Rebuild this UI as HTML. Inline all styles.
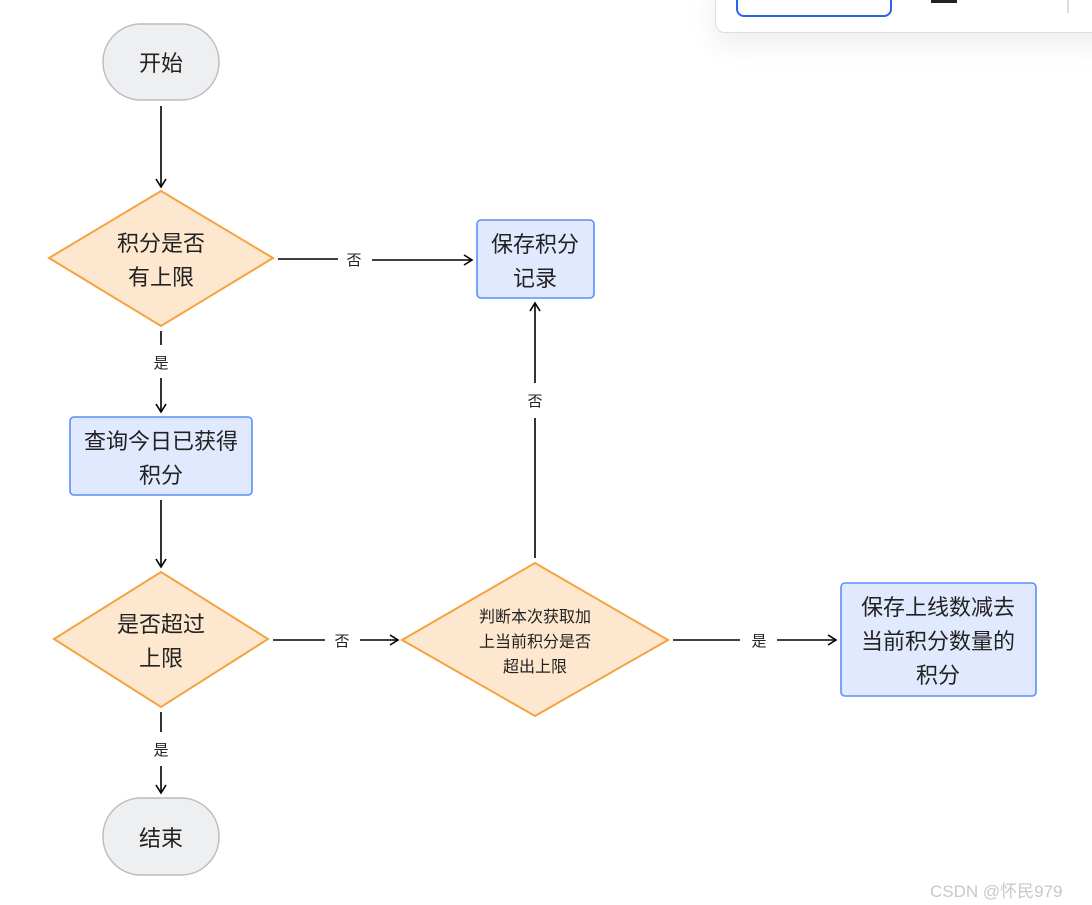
<!DOCTYPE html>
<html><head><meta charset="utf-8"><style>
body{margin:0;width:1092px;height:905px;background:#fff;overflow:hidden;position:relative;font-family:"Liberation Sans","Noto Sans CJK SC",sans-serif;}
svg{position:absolute;left:0;top:0}
.panel{position:absolute;left:715px;top:-20px;width:400px;height:51px;background:#fff;border:1px solid #ddd;border-radius:10px;box-shadow:0 10px 30px rgba(0,0,0,0.08)}
.btn{position:absolute;left:20px;top:-2px;width:156px;height:38px;border:2px solid #2b62f0;border-radius:8px;box-sizing:border-box}
.wm{position:absolute;left:930px;top:877px;font-size:17px;color:#c8c8c8}
</style></head><body>
<div class="panel"><div class="btn"></div><div style="position:absolute;left:215px;top:18px;width:26px;height:4px;background:#222"></div><div style="position:absolute;left:351px;top:0;width:2px;height:32px;background:#ddd"></div></div>
<svg width="1092" height="905" viewBox="0 0 1092 905" font-family="Liberation Sans, Noto Sans CJK SC, sans-serif">
<defs><marker id="a" markerWidth="12" markerHeight="12" refX="10" refY="6" orient="auto" markerUnits="userSpaceOnUse"><path d="M2,1 L10,6 L2,11" fill="none" stroke="#000" stroke-width="1.6"/></marker></defs>
<g stroke="#000" stroke-width="1.6" fill="none">
<line x1="161" y1="106" x2="161" y2="187" marker-end="url(#a)"/>
<line x1="278" y1="259" x2="338" y2="259"/>
<line x1="372" y1="260" x2="472" y2="260" marker-end="url(#a)"/>
<line x1="161" y1="331" x2="161" y2="345"/>
<line x1="161" y1="378" x2="161" y2="412" marker-end="url(#a)"/>
<line x1="161" y1="500" x2="161" y2="567" marker-end="url(#a)"/>
<line x1="273" y1="640" x2="325" y2="640"/>
<line x1="360" y1="640" x2="398" y2="640" marker-end="url(#a)"/>
<line x1="535" y1="558" x2="535" y2="418"/>
<line x1="535" y1="383" x2="535" y2="303" marker-end="url(#a)"/>
<line x1="673" y1="640" x2="740" y2="640"/>
<line x1="777" y1="640" x2="836" y2="640" marker-end="url(#a)"/>
<line x1="161" y1="712" x2="161" y2="732"/>
<line x1="161" y1="766" x2="161" y2="793" marker-end="url(#a)"/>
</g>
<g font-size="15" fill="#222" text-anchor="middle">
<text x="354" y="265">否</text><text x="161" y="368">是</text><text x="342" y="646">否</text><text x="535" y="406">否</text><text x="759" y="646">是</text><text x="161" y="755">是</text>
</g>
<g stroke="#bbbcc0" stroke-width="1.5" fill="#eeeff1">
<rect x="103" y="24" width="116" height="76" rx="38"/>
<rect x="103" y="798" width="116" height="77" rx="38"/>
</g>
<g stroke="#f5a340" stroke-width="2" fill="#fde7cf">
<polygon points="161,191 273,258 161,326 49,258"/>
<polygon points="161,572 268,639 161,707 54,639"/>
<polygon points="535,563 668,640 535,716 402,640"/>
</g>
<g stroke="#5b8ff9" stroke-width="1.6" fill="#e0e9fd">
<rect x="477" y="220" width="117" height="78" rx="4"/>
<rect x="70" y="417" width="182" height="78" rx="4"/>
<rect x="841" y="583" width="195" height="113" rx="4"/>
</g>
<g font-size="22" fill="#222" text-anchor="middle">
<text x="161" y="71">开始</text>
<text x="161" y="846">结束</text>
<text x="161" y="251">积分是否</text><text x="161" y="285">有上限</text>
<text x="535" y="252">保存积分</text><text x="535" y="286">记录</text>
<text x="161" y="449">查询今日已获得</text><text x="161" y="483">积分</text>
<text x="161" y="632">是否超过</text><text x="161" y="666">上限</text>
<text x="938" y="615">保存上线数减去</text><text x="938" y="649">当前积分数量的</text><text x="938" y="683">积分</text>
</g>
<g font-size="16" fill="#222" text-anchor="middle">
<text x="535" y="622">判断本次获取加</text><text x="535" y="647">上当前积分是否</text><text x="535" y="672">超出上限</text>
</g>
</svg>
<div class="wm">CSDN @怀民979</div>
</body></html>
